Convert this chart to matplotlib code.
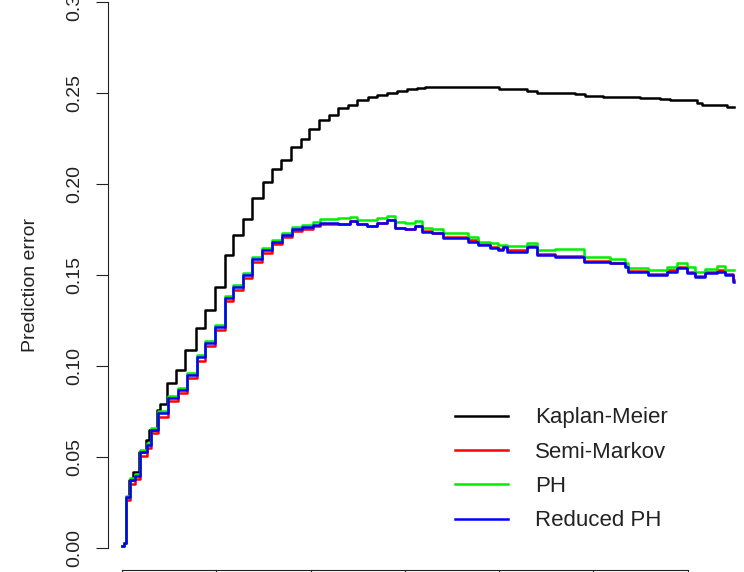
import numpy as np
import matplotlib.pyplot as plt

# step curves of prediction error over time (x ticks every unit, labels cropped in source)
t_km = [0, 0.021, 0.042, 0.071, 0.117, 0.180, 0.255, 0.286, 0.371, 0.403, 0.477, 0.573, 0.668,
        0.785, 0.880, 0.986, 1.092, 1.177, 1.283, 1.379, 1.495, 1.591, 1.686, 1.792, 1.898, 1.983,
        2.089, 2.195, 2.290, 2.397, 2.492, 2.609, 2.704, 2.810, 2.916, 3.022, 3.128, 3.213, 3.372,
        3.998, 4.295, 4.401, 4.804, 4.910, 5.101, 5.493, 5.705, 5.811, 6.098, 6.151, 6.416, 6.490]
kaplan_meier = [0.0011, 0.0027, 0.0280, 0.0374, 0.0418, 0.0527, 0.0593, 0.0648, 0.0758, 0.0791,
                0.0907, 0.0978, 0.1088, 0.1209, 0.1308, 0.1434, 0.1610, 0.1720, 0.1808, 0.1923,
                0.2011, 0.2082, 0.2132, 0.2203, 0.2247, 0.2302, 0.2352, 0.2379, 0.2418, 0.2434,
                0.2462, 0.2476, 0.2489, 0.2502, 0.2513, 0.2520, 0.2526, 0.2531, 0.2535, 0.2520,
                0.2513, 0.2502, 0.2493, 0.2485, 0.2480, 0.2474, 0.2467, 0.2462, 0.2447, 0.2434,
                0.2425, 0.2425]

t_model = [0, 0.021, 0.042, 0.085, 0.138, 0.191, 0.265, 0.308, 0.382, 0.488, 0.594, 0.689, 0.795,
           0.880, 0.986, 1.092, 1.177, 1.283, 1.379, 1.485, 1.591, 1.697, 1.803, 1.909, 2.025,
           2.100, 2.290, 2.418, 2.492, 2.598, 2.704, 2.810, 2.895, 3.001, 3.107, 3.181, 3.287,
           3.404, 3.669, 3.775, 3.902, 3.987, 4.040, 4.083, 4.295, 4.401, 4.592, 4.899, 5.175,
           5.334, 5.366, 5.578, 5.779, 5.885, 5.991, 6.076, 6.182, 6.310, 6.395, 6.480, 6.490]
semi_markov = [0.0011, 0.0027, 0.0262, 0.0350, 0.0380, 0.0505, 0.0548, 0.0630, 0.0722, 0.0805,
               0.0850, 0.0932, 0.1030, 0.1108, 0.1196, 0.1356, 0.1418, 0.1484, 0.1572, 0.1622,
               0.1668, 0.1709, 0.1742, 0.1755, 0.1768, 0.1780, 0.1779, 0.1797, 0.1779, 0.1768,
               0.1784, 0.1802, 0.1760, 0.1753, 0.1769, 0.1740, 0.1731, 0.1707, 0.1690, 0.1672,
               0.1652, 0.1645, 0.1660, 0.1640, 0.1660, 0.1615, 0.1606, 0.1578, 0.1568, 0.1550,
               0.1522, 0.1508, 0.1530, 0.1542, 0.1518, 0.1496, 0.1515, 0.1526, 0.1505, 0.1470,
               0.1470]
ph = [0.0011, 0.0027, 0.0285, 0.0384, 0.0408, 0.0540, 0.0578, 0.0660, 0.0754, 0.0836,
      0.0880, 0.0963, 0.1061, 0.1138, 0.1226, 0.1386, 0.1446, 0.1512, 0.1600, 0.1649,
      0.1693, 0.1732, 0.1765, 0.1775, 0.1790, 0.1808, 0.1812, 0.1820, 0.1802, 0.1802,
      0.1812, 0.1824, 0.1790, 0.1784, 0.1797, 0.1757, 0.1750, 0.1729, 0.1710, 0.1683,
      0.1674, 0.1665, 0.1665, 0.1659, 0.1677, 0.1637, 0.1642, 0.1597, 0.1586, 0.1564,
      0.1537, 0.1527, 0.1546, 0.1564, 0.1546, 0.1518, 0.1531, 0.1549, 0.1527, 0.1527,
      0.1527]
reduced_ph = [0.0011, 0.0027, 0.0280, 0.0374, 0.0396, 0.0527, 0.0566, 0.0648, 0.0742, 0.0824,
              0.0868, 0.0951, 0.1049, 0.1126, 0.1214, 0.1374, 0.1434, 0.1500, 0.1588, 0.1637,
              0.1681, 0.1720, 0.1753, 0.1764, 0.1775, 0.1784, 0.1779, 0.1797, 0.1779, 0.1771,
              0.1784, 0.1802, 0.1757, 0.1753, 0.1769, 0.1738, 0.1729, 0.1703, 0.1683, 0.1665,
              0.1647, 0.1637, 0.1655, 0.1628, 0.1655, 0.1610, 0.1601, 0.1573, 0.1564, 0.1546,
              0.1518, 0.1500, 0.1518, 0.1537, 0.1513, 0.1491, 0.1509, 0.1518, 0.1500, 0.1463,
              0.1463]

yticks = [0.00, 0.05, 0.10, 0.15, 0.20, 0.25, 0.30]
xticks = [0, 1, 2, 3, 4, 5, 6]

plt.rcParams['font.family'] = ['Liberation Sans', 'DejaVu Sans']
txt = '#222222'

fig = plt.figure(figsize=(7.44, 5.72), dpi=100)
ax = fig.add_axes([108/744, 2/572, 636/744, 570/572])

lw = 1.8
ax.plot(t_km, kaplan_meier, drawstyle='steps-post', color='black', lw=lw, label='Kaplan-Meier')
ax.plot(t_model, semi_markov, drawstyle='steps-post', color='#ff0000', lw=lw, label='Semi-Markov')
ax.plot(t_model, ph, drawstyle='steps-post', color='#00ee00', lw=lw, label='PH')
ax.plot(t_model, reduced_ph, drawstyle='steps-post', color='#0000ff', lw=lw, label='Reduced PH')

ax.set_xlim(-0.1485, 6.596)
ax.set_ylim(-0.0121, 0.3011)

for s in ['top', 'right']:
    ax.spines[s].set_visible(False)
ax.spines['left'].set_bounds(0, 0.30)
ax.spines['bottom'].set_bounds(0, 6)
ax.spines['left'].set_color(txt)
ax.spines['bottom'].set_color(txt)

ax.set_yticks(yticks)
ax.set_yticklabels(['%.2f' % v for v in yticks], rotation=90, va='center')
ax.set_xticks(xticks)
ax.tick_params(axis='x', labelbottom=False, direction='out', length=7, color=txt)
ax.tick_params(axis='y', direction='out', length=8.6, pad=9, labelsize=14,
               labelcolor=txt, color=txt)

ax.set_ylabel('Prediction error', fontsize=14, color=txt)
ax.yaxis.set_label_coords(-0.108, 0.5)

ax.legend(loc='center left', bbox_to_anchor=(446/744, 1 - 469.5/572),
          bbox_transform=fig.transFigure, frameon=False, fontsize=16,
          handlelength=2.4, handletextpad=1.2, labelspacing=0.6,
          borderaxespad=0, labelcolor=txt)

fig.savefig('out.png', dpi=100)
